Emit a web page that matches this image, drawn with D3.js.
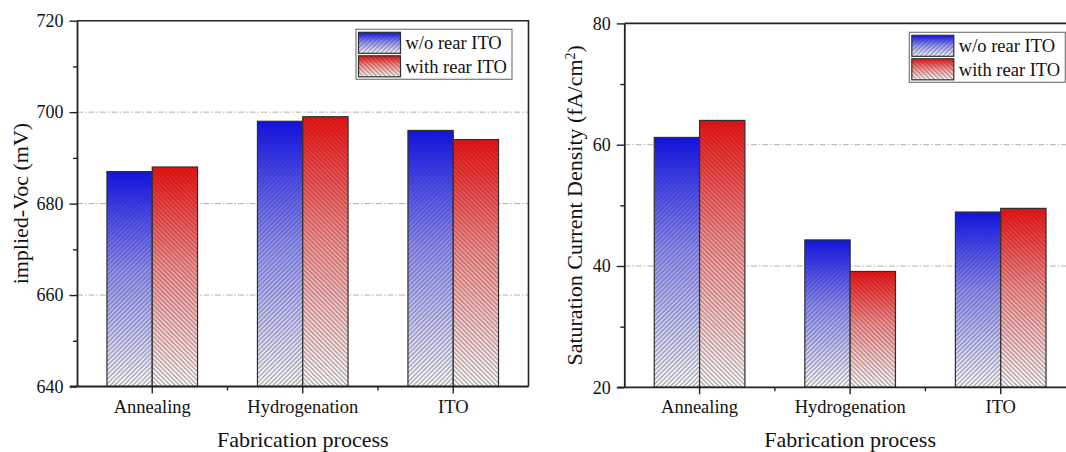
<!DOCTYPE html>
<html>
<head>
<meta charset="utf-8">
<script src="https://cdn.jsdelivr.net/npm/d3@7"></script>
<style>
  html, body { margin: 0; padding: 0; background: #fff; }
  svg { display: block; }
</style>
</head>
<body>
<svg id="chart" width="1066" height="452"></svg>
<script>
// Process steps and series
const categories = ["Annealing", "Hydrogenation", "ITO"];
const seriesNames = ["w/o rear ITO", "with rear ITO"];

// implied-Voc (mV)
const vocWithout = [687, 698, 696];
const vocWith = [688, 699, 694];
const vocTicks = [640, 660, 680, 700, 720];
const vocMinorTicks = [650, 670, 690, 710];
const vocGrid = [660, 680, 700];

// Saturation current density (fA/cm2)
const j0Without = [61.2, 44.3, 48.9];
const j0With = [64.0, 39.1, 49.5];
const j0Ticks = [20, 40, 60, 80];
const j0MinorTicks = [30, 50, 70];
const j0Grid = [40, 60];

const FONT = "'Liberation Serif', Tinos, 'Times New Roman', 'DejaVu Serif', serif";

const svg = d3.select("#chart");
const defs = svg.append("defs");

// vertical fades: saturated colour at the top of each bar, white at the base
const seriesColors = [["#0a0aff", "#9090ff"], ["#ff0a0a", "#ff9090"]];
seriesColors.forEach((c, i) => {
  const g = defs.append("linearGradient")
    .attr("id", "fade" + i)
    .attr("x1", 0).attr("y1", 0).attr("x2", 0).attr("y2", 1);
  g.append("stop").attr("offset", "0%").attr("stop-color", c[0]);
  g.append("stop").attr("offset", "45%").attr("stop-color", c[1]);
  g.append("stop").attr("offset", "100%").attr("stop-color", "#ffffff");
});

// diagonal hatching: "/" for the first series, "\" for the second
[45, -45].forEach((angle, i) => {
  const p = defs.append("pattern")
    .attr("id", "hatch" + i)
    .attr("patternUnits", "userSpaceOnUse")
    .attr("width", 3.2).attr("height", 10)
    .attr("patternTransform", `rotate(${angle})`);
  p.append("line")
    .attr("x1", 1.6).attr("y1", -1).attr("x2", 1.6).attr("y2", 11)
    .attr("stroke", "#3a3a3a").attr("stroke-width", 0.65);
});

function drawPanel(cfg) {
  const { x0, x1, y0, y1, without, withITO, ticks, minor, grid, domain } = cfg;

  const x = d3.scaleBand().domain(categories).range([x0, x1]).paddingInner(0).paddingOuter(0);
  const barW = x.bandwidth() * 0.301;
  const xs = d3.scaleBand().domain(seriesNames).range([-barW, barW]);
  const y = d3.scaleLinear().domain(domain).range([y1, y0]);

  const g = svg.append("g").attr("font-family", FONT).attr("fill", "#111");

  // dash-dot grid lines
  g.selectAll(".grid").data(grid).join("line")
    .attr("x1", x0).attr("x2", x1)
    .attr("y1", d => y(d)).attr("y2", d => y(d))
    .attr("stroke", "#a8a8a8").attr("stroke-width", 0.9)
    .attr("stroke-dasharray", "6,2,1.5,2");

  // bars
  const rows = [];
  categories.forEach((c, i) => {
    rows.push({ cat: c, s: 0, v: without[i] });
    rows.push({ cat: c, s: 1, v: withITO[i] });
  });
  const bars = g.selectAll(".bar").data(rows).join("g");
  const bx = d => x(d.cat) + x.bandwidth() / 2 + xs(seriesNames[d.s]);
  bars.append("rect")
    .attr("x", bx).attr("y", d => y(d.v))
    .attr("width", xs.bandwidth()).attr("height", d => y(domain[0]) - y(d.v))
    .attr("fill", d => `url(#fade${d.s})`);
  bars.append("rect")
    .attr("x", bx).attr("y", d => y(d.v))
    .attr("width", xs.bandwidth()).attr("height", d => y(domain[0]) - y(d.v))
    .attr("fill", d => `url(#hatch${d.s})`)
    .attr("stroke", "#303030").attr("stroke-width", 1.2);

  // frame (top and right sides)
  g.append("path")
    .attr("d", `M${x0},${y0}H${x1}V${y1}`)
    .attr("fill", "none").attr("stroke", "#222").attr("stroke-width", 1.6);

  // y axis
  const ya = g.append("g").attr("transform", `translate(${x0},0)`)
    .call(d3.axisLeft(y).tickValues(ticks).tickSize(7.5).tickSizeOuter(0).tickPadding(6));
  ya.attr("font-family", FONT).attr("font-size", 18);
  ya.select(".domain").attr("stroke", "#222").attr("stroke-width", 1.8);
  ya.selectAll(".tick line").attr("stroke", "#222").attr("stroke-width", 1.4);
  ya.selectAll(".tick text").attr("fill", "#111");
  const ym = g.append("g").attr("transform", `translate(${x0},0)`)
    .call(d3.axisLeft(y).tickValues(minor).tickSize(4).tickSizeOuter(0).tickFormat(""));
  ym.select(".domain").remove();
  ym.selectAll(".tick line").attr("stroke", "#222").attr("stroke-width", 1.4);

  // x axis
  const xa = g.append("g").attr("transform", `translate(0,${y1})`)
    .call(d3.axisBottom(x).tickSize(7).tickSizeOuter(0).tickPadding(6));
  xa.attr("font-family", FONT).attr("font-size", 18.5);
  xa.select(".domain").attr("stroke", "#222").attr("stroke-width", 1.8)
    .attr("d", `M${x0 - 7},0H${x1}`);
  xa.selectAll(".tick line").attr("stroke", "#222").attr("stroke-width", 1.4);
  xa.selectAll(".tick text").attr("fill", "#111");
  // minor ticks at category boundaries
  g.selectAll(".xminor").data(categories.slice(1)).join("line")
    .attr("x1", d => x(d)).attr("x2", d => x(d))
    .attr("y1", y1).attr("y2", y1 + 4)
    .attr("stroke", "#222").attr("stroke-width", 1.4);

  // axis titles
  g.append("text")
    .attr("x", (x0 + x1) / 2).attr("y", 446.5)
    .attr("text-anchor", "middle").attr("font-size", 22)
    .text("Fabrication process");
  const yt = g.append("text")
    .attr("transform", `translate(${cfg.titleX},${(y0 + y1) / 2}) rotate(-90)`)
    .attr("text-anchor", "middle").attr("font-size", 22);
  cfg.yTitle(yt);

  // legend
  const L = cfg.legend;
  const lg = g.append("g").attr("transform", `translate(${L.x},${L.y})`);
  lg.append("rect").attr("width", 156).attr("height", 50)
    .attr("fill", "#fff").attr("stroke", "#7a7a7a").attr("stroke-width", 1.2);
  seriesNames.forEach((name, i) => {
    const row = lg.append("g").attr("transform", `translate(2.5,${3 + i * 23.5})`);
    row.append("rect").attr("width", 42).attr("height", 21).attr("fill", `url(#fade${i})`);
    row.append("rect").attr("width", 42).attr("height", 21)
      .attr("fill", `url(#hatch${i})`).attr("stroke", "#303030").attr("stroke-width", 1.2);
    row.append("text").attr("x", 47).attr("y", 17).attr("font-size", 18.5).text(name);
  });
}

drawPanel({
  x0: 77, x1: 528.5, y0: 20.7, y1: 386.5,
  domain: [640, 720], ticks: vocTicks, minor: vocMinorTicks, grid: vocGrid,
  without: vocWithout, withITO: vocWith,
  titleX: 28,
  yTitle: t => t.text("implied-Voc (mV)"),
  legend: { x: 356, y: 29.3 }
});

drawPanel({
  x0: 624.3, x1: 1076, y0: 23.4, y1: 387.3,
  domain: [20, 80], ticks: j0Ticks, minor: j0MinorTicks, grid: j0Grid,
  without: j0Without, withITO: j0With,
  titleX: 582,
  yTitle: t => {
    t.append("tspan").text("Saturation Current Density (fA/cm");
    t.append("tspan").attr("baseline-shift", "super").attr("font-size", 14).text("2");
    t.append("tspan").text(")");
  },
  legend: { x: 909.3, y: 32.3 }
});
</script>
</body>
</html>
